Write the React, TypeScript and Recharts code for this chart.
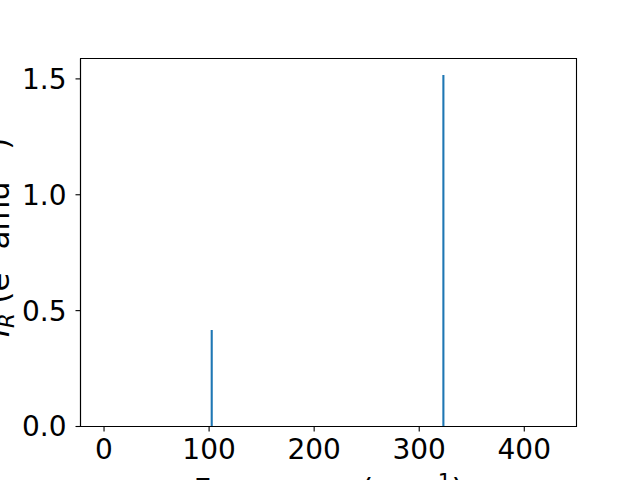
import { ComposedChart, Line, XAxis, YAxis, Label, ReferenceArea } from "recharts";

// stick spectrum: frequency (cm^-1) and IR intensity
const frequencies = [102.5, 323];
const intensities = [0.4165, 1.517];

const xTicks = [0, 100, 200, 300, 400];
const yTicks = [0, 0.5, 1.0, 1.5];
const xDomain = [-22.4, 449.7];
const yDomain = [0, 1.588];

const FONT = "DejaVu Sans";
const BLUE = "#1f77b4";

const sticks = frequencies.map((f, i) => [
  { freq: f, ir: 0 },
  { freq: f, ir: intensities[i] },
]);

function YLabel(props: any) {
  const vb = props.viewBox || {};
  const cy = vb.y + vb.height / 2 - 5;
  return (
    <text
      transform={`translate(8.5, ${cy}) rotate(-90)`}
      textAnchor="middle"
      fontFamily={FONT}
      fontSize={30.6}
      fill="#000"
    >
      <tspan fontStyle="italic">I</tspan>
      <tspan fontStyle="italic" fontSize={21.4} dy={5}>R</tspan>
      <tspan dy={-5}> (e</tspan>
      <tspan fontSize={21.4} dy={-11}>2</tspan>
      <tspan dy={11}> amu</tspan>
      <tspan fontSize={21.4} dy={-11}>−1</tspan>
      <tspan dy={11}>)</tspan>
    </text>
  );
}

function XLabel(props: any) {
  const vb = props.viewBox || {};
  const cx = vb.x + vb.width / 2;
  return (
    <text x={cx} y={500} textAnchor="middle" fontFamily={FONT} fontSize={30.6} fill="#000">
      <tspan>Frequency (cm</tspan>
      <tspan fontSize={21.4} dy={-11}>−1</tspan>
      <tspan dy={11}>)</tspan>
    </text>
  );
}

export default function App() {
  return (
    <div style={{ position: "absolute", left: 0, top: 0, width: 640, height: 480, background: "#fff", overflow: "hidden" }}>
      <ComposedChart
        width={640}
        height={480}
        margin={{ top: 58.5, right: 63.5, bottom: 0, left: 0 }}
      >
        <XAxis
          xAxisId="main"
          dataKey="freq"
          type="number"
          domain={xDomain}
          allowDataOverflow
          ticks={xTicks}
          height={53.5}
          tickSize={5}
          tickMargin={8}
          tick={{ fill: "#000", fontSize: 28, fontFamily: FONT }}
          axisLine={{ stroke: "#000", strokeWidth: 1.1 }}
          tickLine={{ stroke: "#000", strokeWidth: 1.1 }}
        >
          <Label content={<XLabel />} />
        </XAxis>
        <YAxis
          yAxisId="main"
          type="number"
          domain={yDomain}
          allowDataOverflow
          ticks={yTicks}
          width={80.5}
          tickSize={5}
          tickMargin={9}
          tickFormatter={(v: number) => v.toFixed(1)}
          tick={{ fill: "#000", fontSize: 28, fontFamily: FONT }}
          axisLine={{ stroke: "#000", strokeWidth: 1.1 }}
          tickLine={{ stroke: "#000", strokeWidth: 1.1 }}
        >
          <Label content={<YLabel />} />
        </YAxis>
        {sticks.map((d, i) => (
          <Line
            key={i}
            xAxisId="main"
            yAxisId="main"
            data={d}
            dataKey="ir"
            type="linear"
            stroke={BLUE}
            strokeWidth={2.1}
            dot={false}
            activeDot={false}
            isAnimationActive={false}
          />
        ))}
        {/* top and right spines */}
        <ReferenceArea
          xAxisId="main"
          yAxisId="main"
          x1={xDomain[0]}
          x2={xDomain[1]}
          y1={yDomain[0]}
          y2={yDomain[1]}
          fill="none"
          fillOpacity={0}
          stroke="#000"
          strokeWidth={1.1}
          strokeOpacity={1}
          ifOverflow="visible"
        />
      </ComposedChart>
    </div>
  );
}
